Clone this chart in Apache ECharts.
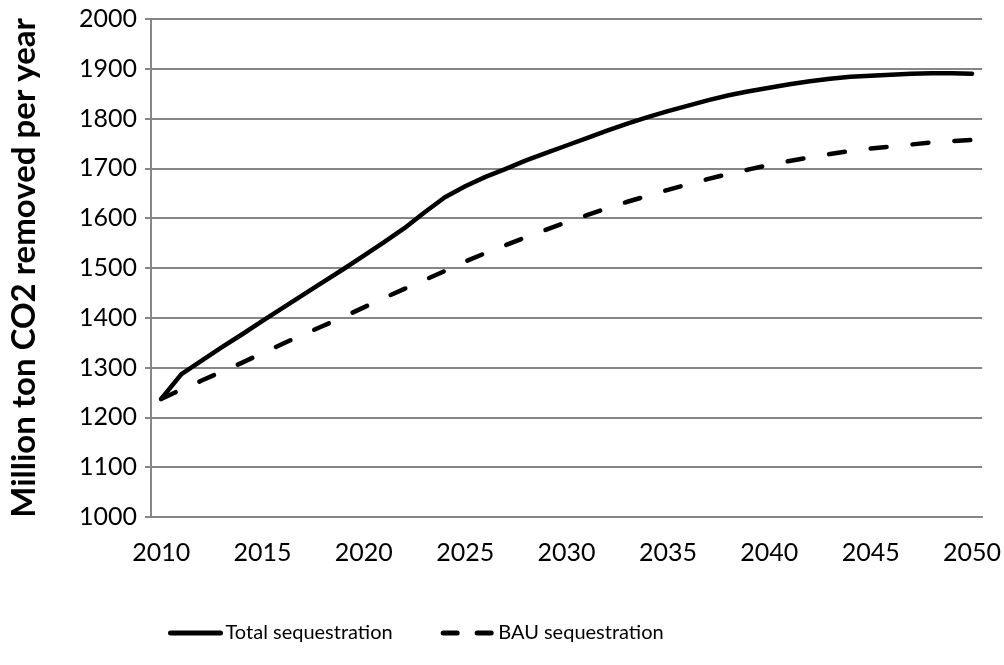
<!DOCTYPE html>
<html>
<head>
<meta charset="utf-8">
<script src="https://cdn.jsdelivr.net/npm/echarts@6/dist/echarts.min.js"></script>
<style>
  html, body { margin: 0; padding: 0; background: #fff; }
  #chart { width: 1004px; height: 665px; }
</style>
</head>
<body>
<div id="chart"></div>
<script>
// years 2010..2050
var years = [];
for (var y = 2010; y <= 2050; y++) years.push(String(y));

// total sequestration (million ton CO2 / year)
var totalSeq = [
  1237, 1287, 1314, 1341, 1367, 1394, 1420, 1446, 1472, 1498,
  1525, 1552, 1580, 1612, 1642, 1664, 1683, 1699, 1716, 1731,
  1746, 1761, 1776, 1790, 1803, 1815, 1826, 1837, 1847, 1855,
  1862, 1869, 1875, 1880, 1884, 1886, 1888, 1890, 1891, 1891,
  1890
];

// business as usual
var bauSeq = [
  1237, 1256, 1274, 1292, 1310, 1329, 1348, 1366, 1384, 1402,
  1421, 1440, 1458, 1476, 1494, 1513, 1530, 1546, 1562, 1577,
  1592, 1606, 1620, 1633, 1645, 1657, 1668, 1679, 1689, 1698,
  1707, 1715, 1722, 1729, 1735, 1740, 1744, 1748, 1752, 1755,
  1757
];

var axisColor = '#868686';
var fontFam = 'Lato, "Noto Sans", sans-serif';

var chart = echarts.init(document.getElementById('chart'), null, { renderer: 'canvas' });
var option = {
  animation: false,
  textStyle: { fontFamily: fontFam, color: '#000' },
  grid: { left: 151, right: 21, top: 19, bottom: 148, containLabel: false },
  legend: {
    left: 163,
    top: 618,
    itemWidth: 50,
    itemHeight: 24,
    itemGap: 48,
    itemStyle: { opacity: 0 },
    textStyle: { fontSize: 20, color: '#000', fontFamily: fontFam },
    data: [
      { name: 'Total sequestration', lineStyle: { width: 5, color: '#000', cap: 'round' } },
      { name: 'BAU sequestration', lineStyle: { width: 5, color: '#000', type: [14, 20], cap: 'round' } }
    ]
  },
  xAxis: {
    type: 'category',
    data: years,
    boundaryGap: true,
    axisLine: { lineStyle: { color: axisColor, width: 2 } },
    axisTick: { show: false },
    axisLabel: {
      interval: 4,
      margin: 23,
      fontSize: 25,
      color: '#000',
      fontFamily: fontFam
    },
    splitLine: { show: false }
  },
  yAxis: {
    type: 'value',
    min: 1000,
    max: 2000,
    interval: 100,
    name: 'Million ton CO2 removed per year',
    nameLocation: 'middle',
    nameGap: 110,
    nameTextStyle: { fontSize: 33, fontWeight: 'bold', color: '#000', fontFamily: fontFam },
    axisLine: { show: true, lineStyle: { color: axisColor, width: 2 } },
    axisTick: { show: true, length: 6, lineStyle: { color: axisColor, width: 2 } },
    axisLabel: {
      margin: 14,
      fontSize: 25,
      color: '#000',
      fontFamily: fontFam,
      formatter: function (v) { return String(v); }
    },
    splitLine: { show: true, lineStyle: { color: axisColor, width: 2 } }
  },
  series: [
    {
      name: 'Total sequestration',
      type: 'line',
      data: totalSeq,
      symbol: 'none',
      lineStyle: { color: '#000', width: 4.5, cap: 'round', join: 'round' },
      itemStyle: { color: '#000' }
    },
    {
      name: 'BAU sequestration',
      type: 'line',
      data: bauSeq,
      symbol: 'none',
      lineStyle: { color: '#000', width: 4.5, type: [16, 26], cap: 'round', join: 'round' },
      itemStyle: { color: '#000' }
    }
  ]
};
chart.setOption(option);
</script>
</body>
</html>
